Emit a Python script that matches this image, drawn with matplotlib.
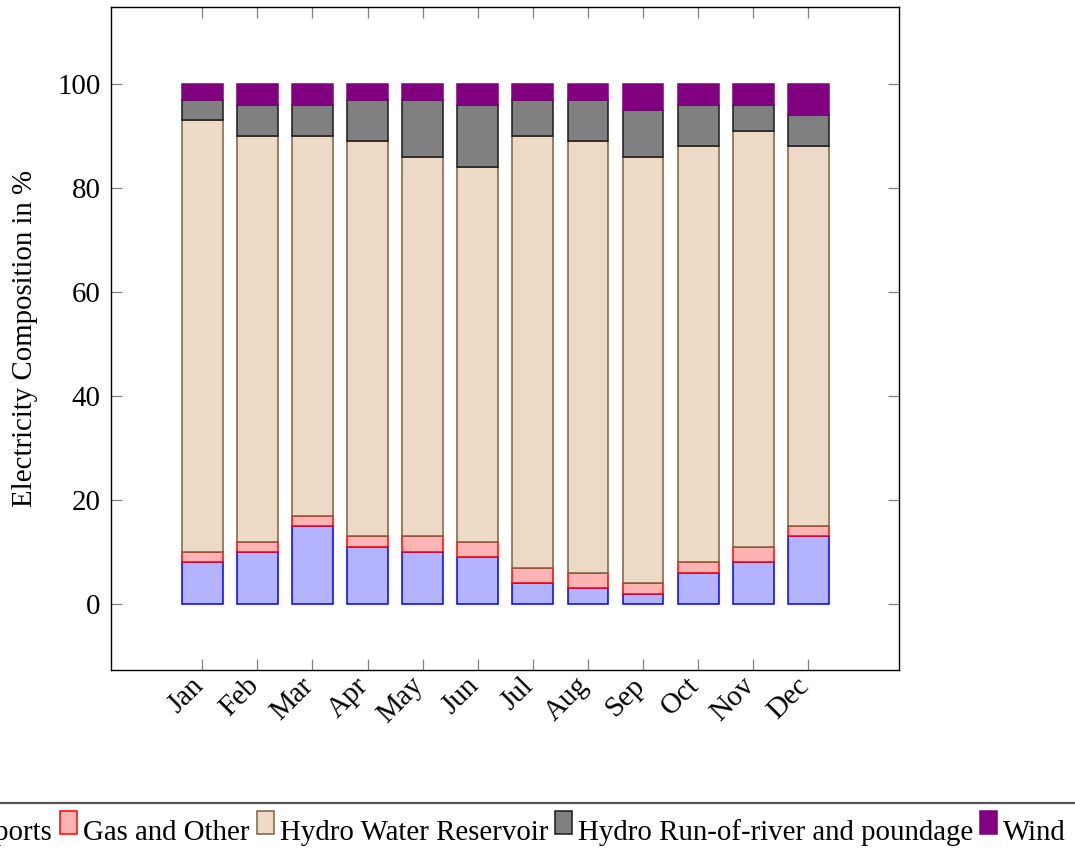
import matplotlib
matplotlib.use("Agg")
import matplotlib.pyplot as plt
from matplotlib.patches import Rectangle
from matplotlib.lines import Line2D
from matplotlib.transforms import ScaledTranslation
import numpy as np

plt.rcParams['font.family'] = ['Liberation Serif', 'DejaVu Serif']
plt.rcParams['mathtext.fontset'] = 'stix'

months = ["Jan", "Feb", "Mar", "Apr", "May", "Jun",
          "Jul", "Aug", "Sep", "Oct", "Nov", "Dec"]

imports = [8, 10, 15, 11, 10, 9, 4, 3, 2, 6, 8, 13]
gas_other = [2, 2, 2, 2, 3, 3, 3, 3, 2, 2, 3, 2]
hydro_reservoir = [83, 78, 73, 76, 73, 72, 83, 83, 82, 80, 80, 73]
hydro_river = [4, 6, 6, 8, 11, 12, 7, 8, 9, 8, 5, 6]
wind = [3, 4, 4, 3, 3, 4, 3, 3, 5, 4, 4, 6]

series_names = ["Imports", "Gas and Other", "Hydro Water Reservoir",
                "Hydro Run-of-river and poundage", "Wind"]
series_values = [imports, gas_other, hydro_reservoir, hydro_river, wind]
face_colors = ["#b3b3ff", "#ffb3b3", "#ecd9c6", "#808080", "#800080"]
edge_colors = ["#0000ff", "#ff0000", "#80603f", "#1a1a1a", "#800080"]

FS = 20.8
fig = plt.figure(figsize=(10.75, 8.51), dpi=100)
ax = fig.add_axes([111 / 1075, 1 - 670 / 851, 788 / 1075, 663 / 851])

x = np.arange(len(months))
bottom = np.zeros(len(months))
for vals, fc, ec in zip(series_values, face_colors, edge_colors):
    vals = np.asarray(vals, dtype=float)
    ax.bar(x, vals, width=0.74, bottom=bottom, color=fc, edgecolor=ec,
           linewidth=1.1, zorder=2)
    bottom += vals

ax.set_xlim(-1.657, 12.646)
ax.set_ylim(-12.7, 114.8)
ax.set_yticks([0, 20, 40, 60, 80, 100])
ax.set_xticks(x)
ax.set_xticklabels(months, rotation=45, ha='right', va='center',
                   rotation_mode='anchor', fontsize=FS)
ax.tick_params(axis='both', direction='in', length=8, width=0.9,
               color='#808080', labelsize=FS)
ax.tick_params(axis='y', left=True, right=True, pad=7.5)
ax.tick_params(axis='x', top=True, bottom=True, pad=8.5)
shift = ScaledTranslation(-3 / 100, 0, fig.dpi_scale_trans)
for lbl in ax.get_xticklabels():
    lbl.set_transform(lbl.get_transform() + shift)
for sp in ax.spines.values():
    sp.set_linewidth(1.0)
    sp.set_color('black')

ax.set_ylabel("Electricity Composition in %", fontsize=FS, labelpad=14)

# Legend row along the bottom of the figure
fig.add_artist(Line2D([-0.05, 1.05], [1 - 803 / 851, 1 - 803 / 851],
                      transform=fig.transFigure, color='#555555', lw=1.6))

fig.canvas.draw()
renderer = fig.canvas.get_renderer()
W, H = 1075.0, 851.0
base_y = 1 - 840 / H
patch_w, patch_h = 17.0, 23.0
gap_patch_text = 6.0
gap_text_patch = 7.0

# Measure label widths, then lay entries out so "Imports" ends at x=53 px
widths = []
for name in series_names:
    t = fig.text(0, 0, name, fontsize=FS)
    bb = t.get_window_extent(renderer=renderer)
    widths.append(bb.width)
    t.remove()

cursor = 53.0 - widths[0]
cursor -= gap_patch_text + patch_w
for name, w, fc, ec in zip(series_names, widths, face_colors, edge_colors):
    px0 = cursor
    fig.add_artist(Rectangle((px0 / W, 1 - 834 / H), patch_w / W, patch_h / H,
                             transform=fig.transFigure, facecolor=fc,
                             edgecolor=ec, linewidth=1.1))
    tx = px0 + patch_w + gap_patch_text
    fig.text(tx / W, base_y, name, fontsize=FS, ha='left', va='baseline')
    cursor = tx + w + gap_text_patch

fig.savefig("out.png", dpi=100)
